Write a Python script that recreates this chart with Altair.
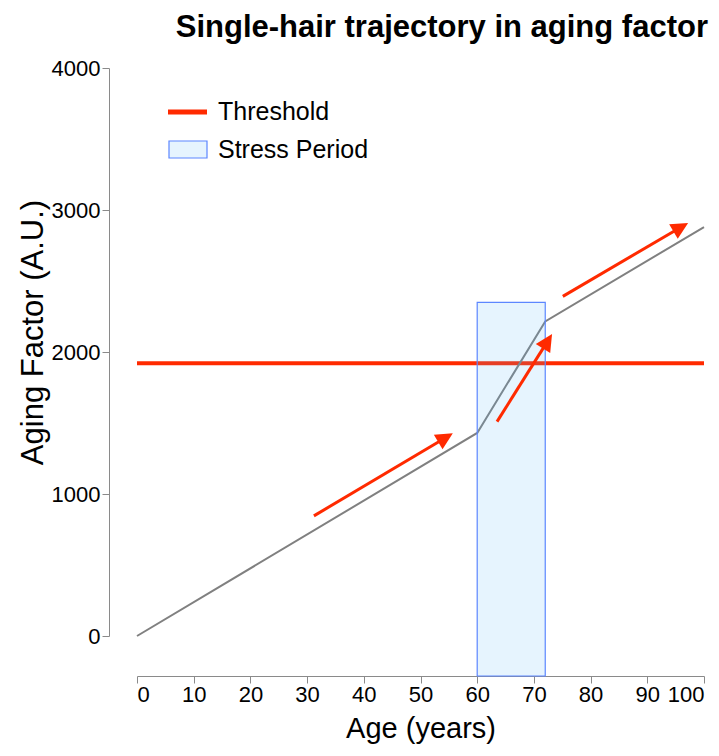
import math
import altair as alt
import pandas as pd

# ---- data ----
ages = [0, 60, 72, 100]
aging_factor = [0, 1430, 2215, 2880]

threshold_value = [1920]
stress_start = [60]
stress_end = [72]
stress_top = [2350]

arrow_x_start = [31.2, 63.5, 75.1]
arrow_y_start = [846, 1510, 2392]
arrow_x_end = [55.7, 73.2, 97.2]
arrow_y_end = [1427, 2126, 2909]

x_ticks = [0, 10, 20, 30, 40, 50, 60, 70, 80, 90, 100]
y_ticks = [0, 1000, 2000, 3000, 4000]
legend_labels = ["Threshold", "Stress Period"]

title_text = "Single-hair trajectory in aging factor"
x_title = "Age (years)"
y_title = "Aging Factor (A.U.)"

# ---- layout / style ----
W, H = 567, 568
PAD_LEFT, PAD_TOP, PAD_RIGHT = 129, 60, 7
SVG_HEIGHT = 736
PAD_BOTTOM = SVG_HEIGHT - PAD_TOP - H
X_DOMAIN = [0, 100]
Y_DOMAIN = [0, 4000]
X_AXIS_OFFSET = 40
Y_AXIS_OFFSET = 28
FONT = "Liberation Sans"
RED = "#ff2a00"
GRAY = "#808080"
AXIS_GRAY = "#8a8a8a"
FILL_BLUE = "#58b6f8"
STROKE_BLUE = "#5c86ff"

px_x = W / (X_DOMAIN[1] - X_DOMAIN[0])
px_y = H / (Y_DOMAIN[1] - Y_DOMAIN[0])

traj_df = pd.DataFrame({"age": ages, "factor": aging_factor})
thr_df = pd.DataFrame({"threshold": threshold_value})
stress_df = pd.DataFrame({"start": stress_start, "end": stress_end, "top": stress_top})

rows = []
for xs, ys, xe, ye in zip(arrow_x_start, arrow_y_start, arrow_x_end, arrow_y_end):
    dxp = (xe - xs) * px_x
    dyp = (ye - ys) * px_y
    length = math.hypot(dxp, dyp)
    frac = 1 - 8 / length
    rows.append({
        "xs": xs, "ys": ys, "xe": xe, "ye": ye,
        "xl": xs + (xe - xs) * frac, "yl": ys + (ye - ys) * frac,
        "angle": math.degrees(math.atan2(dxp, dyp)),
    })
arrow_df = pd.DataFrame(rows)

xscale = alt.Scale(domain=X_DOMAIN, nice=False, zero=False)
yscale = alt.Scale(domain=Y_DOMAIN, nice=False, zero=False)

x_axis = alt.Axis(values=x_ticks, title=x_title, offset=X_AXIS_OFFSET, format="d",
                  labelPadding=1, titleBaseline="alphabetic", titleY=61,
                  titleFontSize=29)
y_axis = alt.Axis(values=y_ticks, title=y_title, offset=Y_AXIS_OFFSET, format="d",
                  labelPadding=2, titleBaseline="alphabetic", titleX=-67,
                  titleY=264, titleAlign="center", titleFontSize=31)

traj = alt.Chart(traj_df).mark_line(color=GRAY, strokeWidth=2).encode(
    x=alt.X("age:Q", scale=xscale, axis=x_axis),
    y=alt.Y("factor:Q", scale=yscale, axis=y_axis),
)

thr = alt.Chart(thr_df).mark_rule(color=RED, strokeWidth=4).encode(
    y=alt.Y("threshold:Q", scale=yscale),
    x=alt.value(0),
    x2=alt.value(W),
)

stress = alt.Chart(stress_df).mark_rect(
    fill=FILL_BLUE, fillOpacity=0.15, stroke=STROKE_BLUE, strokeWidth=1.2
).encode(
    x=alt.X("start:Q", scale=xscale),
    x2="end:Q",
    y=alt.Y("top:Q", scale=yscale),
    y2=alt.value(H + X_AXIS_OFFSET),
)

arrow_lines = alt.Chart(arrow_df).mark_rule(color=RED, strokeWidth=3).encode(
    x=alt.X("xs:Q", scale=xscale),
    y=alt.Y("ys:Q", scale=yscale),
    x2="xl:Q",
    y2="yl:Q",
)

arrow_heads = alt.Chart(arrow_df).mark_point(
    shape="M0,0 L0.5,1 L-0.5,1 Z", filled=True, color=RED, opacity=1, size=1156
).encode(
    x=alt.X("xe:Q", scale=xscale),
    y=alt.Y("ye:Q", scale=yscale),
    angle=alt.Angle("angle:Q", scale=None),
)

leg_df1 = pd.DataFrame({"label": [legend_labels[0]]})
leg_df2 = pd.DataFrame({"label": [legend_labels[1]]})

leg_line = alt.Chart(leg_df1).mark_rule(color=RED, strokeWidth=5).encode(
    x=alt.value(31), x2=alt.value(70), y=alt.value(44)
)
leg_text1 = alt.Chart(leg_df1).mark_text(
    align="left", baseline="middle", font=FONT, fontSize=25, color="black"
).encode(x=alt.value(81), y=alt.value(44), text="label:N")

leg_box = alt.Chart(leg_df2).mark_rect(
    fill=FILL_BLUE, fillOpacity=0.15, stroke=STROKE_BLUE, strokeWidth=1.2
).encode(x=alt.value(32), x2=alt.value(70), y=alt.value(73), y2=alt.value(90))
leg_text2 = alt.Chart(leg_df2).mark_text(
    align="left", baseline="middle", font=FONT, fontSize=25, color="black"
).encode(x=alt.value(81), y=alt.value(82), text="label:N")

chart = alt.layer(
    thr, traj, stress, arrow_lines, arrow_heads,
    leg_line, leg_text1, leg_box, leg_text2,
).properties(
    width=W,
    height=H,
    title=alt.TitleParams(title_text, anchor="end", fontSize=31, font=FONT,
                          fontWeight="bold", color="black", offset=13),
    autosize=alt.AutoSizeParams(type="none"),
    padding={"left": PAD_LEFT, "top": PAD_TOP, "right": PAD_RIGHT, "bottom": PAD_BOTTOM},
).configure_view(
    stroke=None
).configure_axis(
    grid=False,
    domainColor=AXIS_GRAY,
    tickColor=AXIS_GRAY,
    domainWidth=1,
    tickWidth=1,
    tickSize=7,
    labelFont=FONT,
    labelFontSize=22,
    labelColor="black",
    titleFont=FONT,
    titleFontWeight="normal",
    titleColor="black",
)

chart.save("out.html", embed_options={"renderer": "svg", "actions": False})
